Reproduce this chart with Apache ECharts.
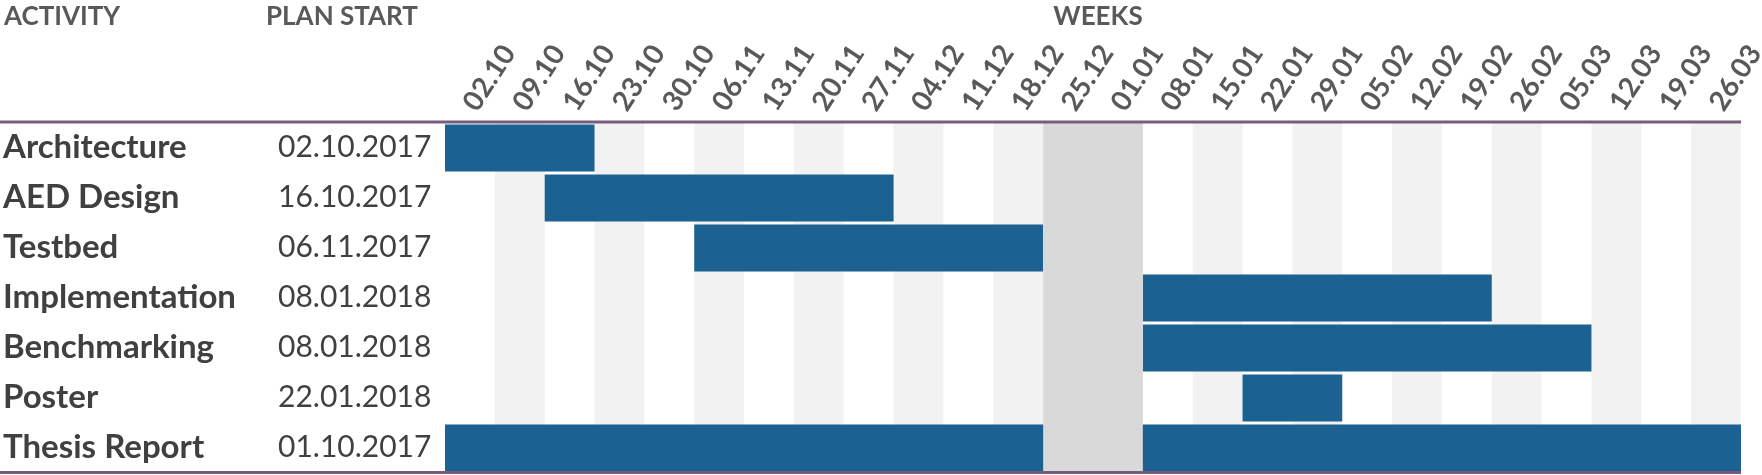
<!DOCTYPE html>
<html>
<head>
<meta charset="utf-8">
<title>Thesis plan</title>
<script src="https://cdn.jsdelivr.net/npm/echarts@6/dist/echarts.min.js"></script>
<style>
  html, body { margin: 0; padding: 0; background: #fff; }
  #chart { width: 1762px; height: 475px; }
</style>
</head>
<body>
<div id="chart"></div>
<script>
// week columns (monday of each week)
const weeks = ['02.10', '09.10', '16.10', '23.10', '30.10', '06.11', '13.11', '20.11', '27.11',
  '04.12', '11.12', '18.12', '25.12', '01.01', '08.01', '15.01', '22.01', '29.01', '05.02',
  '12.02', '19.02', '26.02', '05.03', '12.03', '19.03', '26.03'];
const activities = ['Architecture', 'AED Design', 'Testbed', 'Implementation', 'Benchmarking', 'Poster', 'Thesis Report'];
const planStart = ['02.10.2017', '16.10.2017', '06.11.2017', '08.01.2018', '08.01.2018', '22.01.2018', '01.10.2017'];
// index of first week and length in weeks
const startWeek = [0, 2, 5, 14, 14, 16, 0];
const durationWeeks = [3, 7, 7, 7, 9, 2, 26];
// christmas break: first week, number of weeks
const holidayStart = 12;
const holidayWeeks = 2;

const font = 'Lato';
const barColor = '#1b6191';
const lineColor = '#785c7c';

const chart = echarts.init(document.getElementById('chart'));

const barData = activities.map((a, i) => [startWeek[i], startWeek[i] + durationWeeks[i], i]);

function renderBar(params, api) {
  const start = api.coord([api.value(0), api.value(2)]);
  const end = api.coord([api.value(1), api.value(2)]);
  const h = api.size([0, 1])[1] * 0.94;
  return {
    type: 'rect',
    shape: { x: start[0], y: start[1] - h / 2 + 1, width: end[0] - start[0], height: h },
    style: { fill: barColor }
  };
}

function renderHoliday(params, api) {
  const cs = params.coordSys;
  const x0 = api.coord([api.value(0), 0])[0];
  const x1 = api.coord([api.value(1), 0])[0];
  return {
    type: 'rect',
    shape: { x: x0, y: cs.y, width: x1 - x0, height: cs.height },
    style: { fill: '#d9d9d9' }
  };
}

const headStyle = { fontFamily: font, fontWeight: 'bold', fontSize: 26, color: '#595959' };

chart.setOption({
  animation: false,
  title: [
    { text: 'ACTIVITY', left: -1, top: -1, textStyle: headStyle },
    { text: 'PLAN START', left: 261, top: -1, textStyle: headStyle },
    { text: 'WEEKS', left: 1093, top: -1, textAlign: 'center', textStyle: headStyle }
  ],
  grid: { left: 445, right: 21, top: 122, bottom: 3, outerBoundsMode: 'none' },
  xAxis: [
    {
      type: 'category',
      position: 'top',
      data: weeks,
      boundaryGap: true,
      axisLine: { show: false },
      axisTick: { show: false },
      axisLabel: {
        interval: 0,
        rotate: -57,
        margin: 14,
        padding: [16, 0, 0, 0],
        fontFamily: font,
        fontWeight: 'bold',
        fontSize: 28,
        color: '#595959'
      },
      splitArea: { show: true, interval: 0, areaStyle: { color: ['rgba(255,255,255,0)', '#f2f2f2'] } }
    },
    {
      type: 'value',
      min: 0,
      max: weeks.length,
      show: false
    }
  ],
  yAxis: {
    type: 'category',
    data: activities,
    inverse: true,
    axisLine: { show: false },
    axisTick: { show: false },
    splitLine: { show: true, lineStyle: { color: '#ffffff', width: 3 } },
    axisLabel: {
      margin: 442,
      align: 'left',
      formatter: (v, i) => '{n|' + v + '}{d|' + planStart[i] + '}',
      rich: {
        n: { fontFamily: font, fontWeight: 'bold', fontSize: 33, color: '#404040', width: 275 },
        d: { fontFamily: font, fontSize: 30, color: '#404040' }
      }
    }
  },
  series: [
    {
      type: 'custom',
      xAxisIndex: 1,
      renderItem: renderBar,
      encode: { x: [0, 1], y: 2 },
      data: barData,
      z: 3
    },
    {
      type: 'custom',
      xAxisIndex: 1,
      renderItem: renderHoliday,
      encode: { x: [0, 1], y: 2 },
      data: [[holidayStart, holidayStart + holidayWeeks, 0]],
      z: 4
    }
  ],
  graphic: [
    { type: 'line', z: 100, shape: { x1: 0, y1: 122, x2: 1741, y2: 122 }, style: { stroke: lineColor, lineWidth: 3 } },
    { type: 'line', z: 100, shape: { x1: 0, y1: 472.5, x2: 1741, y2: 472.5 }, style: { stroke: lineColor, lineWidth: 3 } }
  ]
});
</script>
</body>
</html>
